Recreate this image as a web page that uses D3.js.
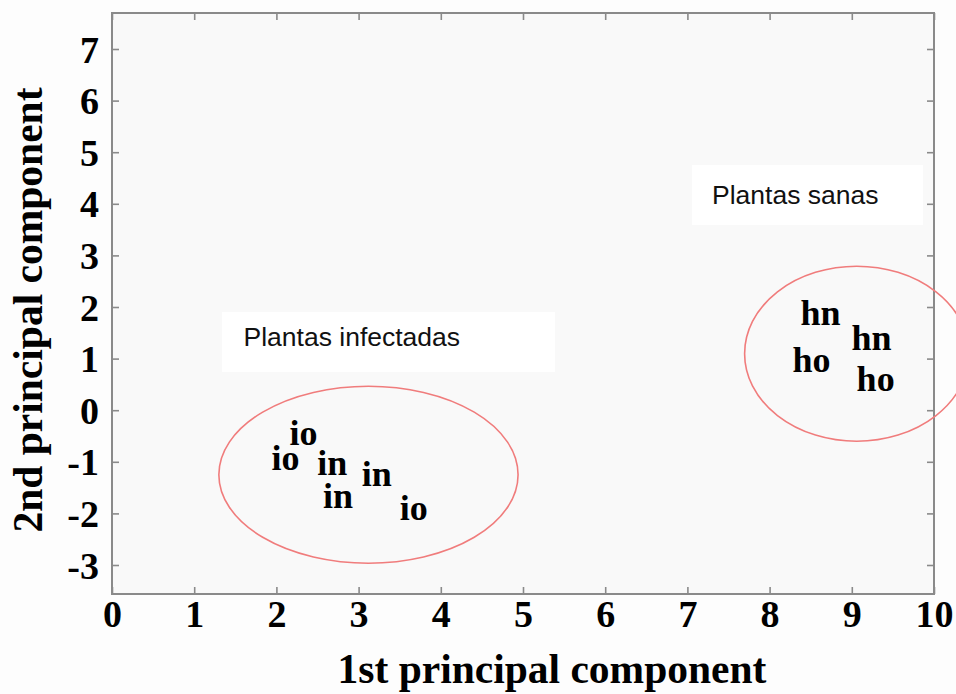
<!DOCTYPE html>
<html>
<head>
<meta charset="utf-8">
<script src="https://cdn.jsdelivr.net/npm/d3@7"></script>
<style>
  html, body { margin: 0; padding: 0; background: #fdfdfd; }
  svg { display: block; }
</style>
</head>
<body>
<script>
// ---- Data ----
const xTicks = [0, 1, 2, 3, 4, 5, 6, 7, 8, 9, 10];
const yTicks = [-3, -2, -1, 0, 1, 2, 3, 4, 5, 6, 7];
const pointLabels = ["io", "io", "in", "in", "in", "io", "hn", "hn", "ho", "ho"];
const pc1 = [2.33, 2.11, 2.68, 3.22, 2.75, 3.67, 8.62, 9.24, 8.51, 9.29];
const pc2 = [-0.52, -1.01, -1.10, -1.32, -1.74, -1.98, 1.80, 1.32, 0.89, 0.52];
const groupNames = ["Plantas infectadas", "Plantas sanas"];
const groupCx = [3.12, 9.06];
const groupCy = [-1.25, 1.095];
const groupRx = [1.82, 1.364];
const groupRy = [1.715, 1.696];
const groupLabelX = [1.6, 7.3];
const groupLabelY = [1.25, 4.0];
const xTitle = "1st principal component";
const yTitle = "2nd principal component";

// ---- Layout ----
const W = 956, H = 694;
const mLeft = 112, mRight = 934, mTop = 13, mBottom = 594;

const svg = d3.select("body").append("svg")
  .attr("width", W).attr("height", H);

const x = d3.scaleLinear().domain([0, 10]).range([mLeft, mRight]);
const y = d3.scaleLinear().domain([-3, 7]).range([565, 49]);

// plot background
svg.append("rect").attr("x", mLeft).attr("y", mTop)
  .attr("width", mRight - mLeft).attr("height", mBottom - mTop)
  .attr("fill", "#f9f9f9");

// label boxes (white)
const boxes = [
  {x0: 222, y0: 312, x1: 555, y1: 372},
  {x0: 692, y0: 165, x1: 923, y1: 225}
];
svg.selectAll("rect.lbox").data(boxes).enter().append("rect")
  .attr("class", "lbox")
  .attr("x", d => d.x0).attr("y", d => d.y0)
  .attr("width", d => d.x1 - d.x0).attr("height", d => d.y1 - d.y0)
  .attr("fill", "#ffffff");

// axes (ticks inward)
const frameColor = "#8a8a8a";
function styleAxis(g) {
  g.select(".domain").remove();
  g.selectAll(".tick line").attr("stroke", frameColor).attr("stroke-width", 1.6);
}
const tickFont = "'Liberation Serif', 'Times New Roman', serif";
const fmt = d => String(d);

const gB = svg.append("g").attr("transform", `translate(0,${mBottom})`)
  .call(d3.axisBottom(x).tickValues(xTicks).tickSizeInner(-7).tickSizeOuter(0).tickPadding(0).tickFormat(fmt));
styleAxis(gB);
gB.selectAll(".tick text").attr("y", 33).attr("dy", 0)
  .attr("font-family", tickFont).attr("font-weight", "bold")
  .attr("font-size", 38).attr("fill", "#000");

const gT = svg.append("g").attr("transform", `translate(0,${mTop})`)
  .call(d3.axisTop(x).tickValues(xTicks).tickSizeInner(-7).tickSizeOuter(0).tickFormat(""));
styleAxis(gT);

const gL = svg.append("g").attr("transform", `translate(${mLeft},0)`)
  .call(d3.axisLeft(y).tickValues(yTicks).tickSizeInner(-7).tickSizeOuter(0).tickPadding(0).tickFormat(fmt));
styleAxis(gL);
gL.selectAll(".tick text").attr("x", -13).attr("dy", 0).attr("y", 13)
  .attr("font-family", tickFont).attr("font-weight", "bold")
  .attr("font-size", 38).attr("fill", "#000");

const gR = svg.append("g").attr("transform", `translate(${mRight},0)`)
  .call(d3.axisRight(y).tickValues(yTicks).tickSizeInner(-7).tickSizeOuter(0).tickFormat(""));
styleAxis(gR);

// frame
svg.append("rect").attr("x", mLeft).attr("y", mTop)
  .attr("width", mRight - mLeft).attr("height", mBottom - mTop)
  .attr("fill", "none").attr("stroke", frameColor).attr("stroke-width", 2);

// ellipses
svg.selectAll("ellipse.grp").data(groupCx).enter().append("ellipse")
  .attr("class", "grp")
  .attr("cx", (d, i) => x(groupCx[i]))
  .attr("cy", (d, i) => y(groupCy[i]))
  .attr("rx", (d, i) => x(groupRx[i]) - x(0))
  .attr("ry", (d, i) => y(0) - y(groupRy[i]))
  .attr("fill", "none").attr("stroke", "#f07c7c").attr("stroke-width", 1.6);

// group labels
svg.selectAll("text.glabel").data(groupNames).enter().append("text")
  .attr("class", "glabel")
  .attr("x", (d, i) => x(groupLabelX[i]))
  .attr("y", (d, i) => y(groupLabelY[i]))
  .attr("font-family", "'Liberation Sans', Arial, sans-serif")
  .attr("font-size", 26.5).attr("fill", "#111")
  .text(d => d);

// point labels
svg.selectAll("text.pt").data(pointLabels).enter().append("text")
  .attr("class", "pt")
  .attr("x", (d, i) => x(pc1[i]))
  .attr("y", (d, i) => y(pc2[i]))
  .attr("dy", 8)
  .attr("text-anchor", "middle")
  .attr("font-family", tickFont).attr("font-weight", "bold")
  .attr("font-size", 36).attr("fill", "#000")
  .text(d => d);

// axis titles
svg.append("text")
  .attr("x", (mLeft + mRight) / 2 + 29).attr("y", 683)
  .attr("text-anchor", "middle")
  .attr("font-family", tickFont).attr("font-weight", "bold")
  .attr("font-size", 41.5).attr("fill", "#000")
  .text(xTitle);

svg.append("text")
  .attr("transform", "translate(42,310) rotate(-90)")
  .attr("text-anchor", "middle")
  .attr("font-family", tickFont).attr("font-weight", "bold")
  .attr("font-size", 41.5).attr("fill", "#000")
  .text(yTitle);
</script>
</body>
</html>
